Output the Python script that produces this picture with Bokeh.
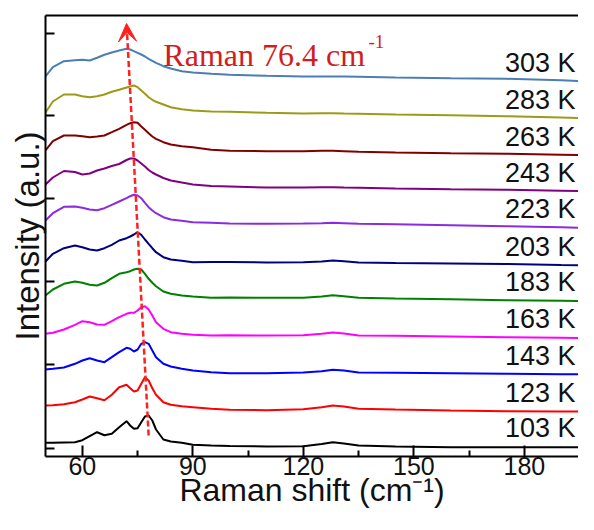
from bokeh.plotting import figure
from bokeh.models import Range1d, FixedTicker, LinearAxis, Label, Arrow, VeeHead, ColumnDataSource
from bokeh.embed import file_html
from bokeh.resources import INLINE
from bokeh.core.properties import value

# Raman shift grid (cm^-1)
shift = [50, 52, 55, 58, 60, 62, 64, 66, 68, 70, 72, 73, 74, 75, 76, 77, 78, 79, 80, 82,
         84, 87, 90, 95, 100, 110, 120, 125, 128, 131, 135, 145, 160, 175, 190, 200]

# stacked intensities (a.u.), one list per temperature
i_103 = [18.7, 18.7, 19, 19.3, 21.3, 25.3, 29.3, 26.3, 27.7, 34.3, 40.3, 36, 32.7, 33.3, 39.3, 45, 46, 41, 32, 22,
         20, 18.7, 16.7, 16, 15.5, 15, 15.3, 17.5, 19.3, 18, 16, 15, 14.3, 14.3, 14.3, 14.3]
i_123 = [56, 56.3, 57.3, 59.3, 62, 65, 63.3, 61.3, 66.7, 74.3, 76.7, 73.3, 70, 71, 77.7, 84.3, 81, 73.3, 66.7, 59.3,
         56.7, 55.3, 54.3, 52.7, 51.7, 51.3, 52.3, 54.3, 56, 55, 52.7, 52, 51, 50.3, 50, 50]
i_143 = [92, 92.7, 94, 97.7, 101, 103.3, 101, 99.3, 104.3, 109.3, 113.7, 112.7, 110, 112, 117.7, 119.3, 117.7, 111, 104.3, 97.7,
         95, 92.7, 91, 89.3, 88.3, 88.3, 89, 90.3, 91.7, 91, 89, 88.7, 88.3, 87.7, 87.3, 87]
i_163 = [127.7, 128.7, 132, 136.7, 140.3, 139.3, 137, 136.7, 140.3, 144.3, 147.7, 148.7, 148.7, 151, 154.3, 155.3, 152, 146, 139.3, 132.7,
         129.3, 127.7, 126.7, 126, 126.3, 126, 126.3, 127.7, 129, 128, 126, 125.7, 125, 124.3, 123.7, 123.3]
i_183 = [166, 172, 177.7, 180, 178.7, 176.7, 176, 178.7, 183.3, 187.7, 189.3, 190.3, 192, 192.7, 192, 187.7, 182.7, 178.7, 175.3, 170,
         167.7, 166, 165, 163.7, 164, 163.7, 163.7, 165, 166.3, 165.3, 163.7, 163, 162.3, 161.3, 160.7, 160.3]
i_203 = [200, 207.7, 213.3, 216, 214.3, 212, 211, 213.3, 216.7, 221, 223.3, 225, 227, 229.3, 226.7, 222, 217.7, 213.3, 209.3, 204.3,
         202, 200.7, 199.3, 199.5, 199.5, 199, 199.3, 200, 201, 200.3, 199, 198.5, 198, 197.5, 196.5, 196]
i_223 = [241, 248.3, 254.7, 255, 253.7, 252, 251.3, 253.3, 256.7, 260, 263.3, 265.3, 266.7, 266, 263.3, 258.7, 254.3, 251, 248.3, 244.3,
         242, 240.7, 239.3, 238.7, 238, 237.7, 238, 238.3, 238.7, 238.3, 237.7, 237.3, 236.3, 235.3, 234.3, 233.3]
i_243 = [277, 284, 290.5, 289.5, 287, 288, 291, 293, 295.5, 297.5, 301.5, 303, 303, 301, 298, 295, 291.5, 289, 287, 283.5,
         281, 279, 277, 275.5, 275, 274, 274, 274.3, 274.3, 274, 273.7, 273, 272.3, 271.7, 270.7, 270]
i_263 = [311, 320.3, 326, 326, 325.3, 324.3, 325, 326, 329.3, 332.7, 336.7, 338.3, 339.3, 338.7, 335, 331.7, 328.3, 325, 322.7, 319.3,
         317, 315.3, 314.3, 311.7, 310.7, 310.3, 310.3, 310.7, 310.7, 310.3, 309.7, 309, 308.3, 307.7, 306.7, 306]
i_283 = [349, 360, 367, 367, 365.3, 364.3, 365.3, 367, 369.7, 371.7, 374, 375, 376, 374.3, 371, 367.7, 364.3, 361.7, 359.7, 357,
         354.3, 352.3, 351, 350, 349.7, 348.7, 348, 348.3, 348.3, 348, 347.7, 347, 346.3, 345.3, 344, 342.7]
i_303 = [385, 394.3, 400.3, 401.3, 401.7, 401, 403.7, 406.7, 409, 411, 412.7, 412, 410.3, 408.7, 407, 405, 402.7, 400.7, 398.7, 395.3,
         393, 390.3, 389, 387.7, 386.7, 385.7, 385, 385, 385, 385, 384.7, 384, 383.3, 382.7, 381.3, 379.3]

temps = ["103 K", "123 K", "143 K", "163 K", "183 K", "203 K", "223 K", "243 K", "263 K", "283 K", "303 K"]
series = [i_103, i_123, i_143, i_163, i_183, i_203, i_223, i_243, i_263, i_283, i_303]
colors = ["#000000", "#FF0000", "#0000FF", "#FF00FF", "#008000", "#000080",
          "#8A2BE2", "#800080", "#800000", "#9B9B1A", "#4A7EB5"]

# peak-shift trend arrow (shift, intensity) from low to high temperature
trend_shift = [78.0, 72.0]
trend_int = [26, 438]

p = figure(width=578, height=514, output_backend="svg", toolbar_location=None,
           x_range=Range1d(50, 194.7), y_range=Range1d(5, 446),
           min_border_left=45, min_border_right=0, min_border_top=15, min_border_bottom=58)
p.grid.visible = False
p.outline_line_color = None

for ys, c in zip(series, colors):
    p.line(shift, ys, line_color=c, line_width=2)

src = ColumnDataSource(dict(x=[193.9] * len(temps), y=[s[-1] + 19 for s in series], t=temps))
p.text(x="x", y="y", text="t", source=src, text_align="right", text_baseline="middle",
       text_font=value("Liberation Sans"), text_font_size="27px", text_color="#111111")

p.add_layout(Arrow(end=VeeHead(size=18, fill_color="#FF2020", line_color="#FF2020"),
                   x_start=trend_shift[0], y_start=trend_int[0], x_end=trend_shift[1], y_end=trend_int[1],
                   line_color="#FF2020", line_width=2.5, line_dash="6 3"))

red = "#D01E1E"
p.add_layout(Label(x=82.0, y=407, text="Raman 76.4 cm", text_font="Liberation Serif",
                   text_font_size="32px", text_color=red, text_baseline="alphabetic"))
p.add_layout(Label(x=137.7, y=420, text="-1", text_font="Liberation Serif",
                   text_font_size="19px", text_color=red, text_baseline="alphabetic"))

ax = p.xaxis[0]
ax.ticker = FixedTicker(ticks=[60, 90, 120, 150, 180], minor_ticks=[75, 105, 135, 165, 195])
ax.axis_label = "Raman shift (cm\u207b\u00b9)"
ay = p.yaxis[0]
ay.ticker = FixedTicker(ticks=[], minor_ticks=[13, 97, 180, 263, 346, 428])
ay.axis_label = "Intensity (a.u.)"

for a in (ax, ay):
    a.axis_line_width = 2
    a.axis_line_color = "black"
    a.major_tick_line_width = 2
    a.minor_tick_line_width = 2
    a.major_tick_line_color = "black"
    a.minor_tick_line_color = "black"
    a.major_tick_in = 11
    a.major_tick_out = 0
    a.minor_tick_in = 6
    a.minor_tick_out = 0
    a.axis_label_text_font = "Liberation Sans"
    a.axis_label_text_font_style = "normal"
    a.axis_label_text_color = "#111111"
ay.minor_tick_in = 9
ay.axis_label_text_font_size = "33px"
ay.axis_label_standoff = 0
ax.axis_label_text_font_size = "32px"
ax.axis_label_standoff = -6

ax.major_label_text_font = "Liberation Sans"
ax.major_label_text_font_size = "25px"
ax.major_label_text_color = "#111111"
ax.major_label_standoff = 0

top = LinearAxis(ticker=FixedTicker(ticks=[]), axis_line_width=2, axis_line_color="black",
                 major_tick_line_color=None, minor_tick_line_color=None)
p.add_layout(top, "above")

open("out.html", "w").write(file_html(p, INLINE))
